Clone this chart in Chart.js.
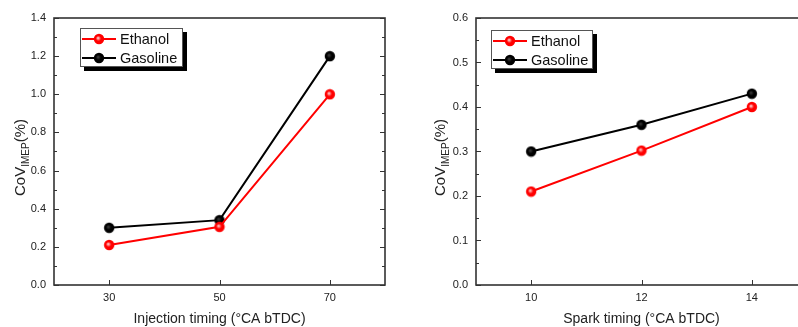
<!DOCTYPE html>
<html>
<head>
<meta charset="utf-8">
<script src="https://cdn.jsdelivr.net/npm/chart.js@4/dist/chart.umd.min.js"></script>
<style>
  html, body { margin: 0; padding: 0; background: #fff; overflow: hidden; }
  body { width: 798px; height: 327px; position: relative; }
  .panel { position: absolute; top: 0; height: 327px; }
  #injPanel { left: 0; width: 400px; }
  #sparkPanel { left: 400px; width: 420px; }
</style>
</head>
<body>
<div class="panel" id="injPanel"><canvas id="injChart" width="400" height="327"></canvas></div>
<div class="panel" id="sparkPanel"><canvas id="sparkChart" width="420" height="327"></canvas></div>
<script>
// Injection timing sweep
const injTiming = [30, 50, 70];
const injEthanol = [0.21, 0.305, 1.0];
const injGasoline = [0.30, 0.34, 1.2];

// Spark timing sweep
const sparkTiming = [10, 12, 14];
const sparkEthanol = [0.21, 0.302, 0.40];
const sparkGasoline = [0.30, 0.36, 0.43];

const FONT = 'Arial, "Liberation Sans", sans-serif';
const TEXT = '#222';

// shaded round markers
function makeDot(fill, shine) {
  const c = document.createElement('canvas');
  c.width = c.height = 12;
  const g = c.getContext('2d');
  const grad = g.createRadialGradient(5, 5, 0.3, 6, 6, 5.5);
  grad.addColorStop(0, shine);
  grad.addColorStop(0.45, fill);
  grad.addColorStop(1, fill);
  g.fillStyle = grad;
  g.beginPath();
  g.arc(6, 6, 5.2, 0, Math.PI * 2);
  g.fill();
  return c;
}
const redDot = makeDot('#ff0000', '#ffd0d0');
const blackDot = makeDot('#000000', '#3a3a3a');

// box frame, inward ticks and axis titles
const framePlugin = {
  id: 'frame',
  beforeDatasetsDraw(chart, args, opts) {
    const { ctx, chartArea: a, scales: { x, y } } = chart;
    ctx.save();
    ctx.strokeStyle = '#333';
    ctx.lineWidth = 1;
    ctx.beginPath();
    const half = opts.yStep / 2;
    for (let i = 0; i * half <= y.max + 1e-9; i++) {
      const py = Math.round(y.getPixelForValue(i * half)) + 0.5;
      const len = i % 2 === 0 ? 5 : 3;
      ctx.moveTo(a.left, py); ctx.lineTo(a.left + len, py);
      ctx.moveTo(a.right, py); ctx.lineTo(a.right - len, py);
    }
    x.ticks.forEach(t => {
      const px = Math.round(x.getPixelForValue(t.value)) + 0.5;
      ctx.moveTo(px, a.bottom); ctx.lineTo(px, a.bottom - 5);
    });
    ctx.stroke();

    ctx.lineWidth = 1.6;
    ctx.strokeRect(a.left, a.top, a.right - a.left, a.bottom - a.top);

    // x title
    ctx.fillStyle = TEXT;
    ctx.font = '14px ' + FONT;
    ctx.textAlign = 'center';
    ctx.textBaseline = 'alphabetic';
    ctx.fillText(opts.xTitle, (a.left + a.right) / 2, 323);

    // y title with subscript
    ctx.translate(opts.yTitleX, (a.top + a.bottom) / 2 + 6);
    ctx.rotate(-Math.PI / 2);
    ctx.textAlign = 'left';
    ctx.textBaseline = 'middle';
    ctx.font = '15px ' + FONT;
    const w1 = ctx.measureText('CoV').width;
    const w3 = ctx.measureText('(%)').width;
    ctx.font = '10px ' + FONT;
    const w2 = ctx.measureText('IMEP').width;
    let sx = -(w1 + w2 + w3) / 2;
    ctx.font = '15px ' + FONT;
    ctx.fillText('CoV', sx, 0);
    sx += w1;
    ctx.font = '10px ' + FONT;
    ctx.fillText('IMEP', sx, 5);
    sx += w2;
    ctx.font = '15px ' + FONT;
    ctx.fillText('(%)', sx, 0);
    ctx.restore();
  }
};

// legend box with drop shadow
const boxLegendPlugin = {
  id: 'boxLegend',
  afterDatasetsDraw(chart, args, opts) {
    const { ctx } = chart;
    const { x, y, w, h } = opts;
    ctx.save();
    ctx.fillStyle = '#000';
    ctx.fillRect(x + 4, y + 4, w, h);
    ctx.fillStyle = '#fff';
    ctx.fillRect(x, y, w, h);
    ctx.strokeStyle = '#555';
    ctx.lineWidth = 1;
    ctx.strokeRect(x + 0.5, y + 0.5, w - 1, h - 1);
    ctx.font = '14.5px ' + FONT;
    ctx.textAlign = 'left';
    ctx.textBaseline = 'middle';
    chart.data.datasets.forEach((ds, i) => {
      const ry = y + 11 + i * 19;
      ctx.strokeStyle = ds.borderColor;
      ctx.lineWidth = 2;
      ctx.beginPath();
      ctx.moveTo(x + 2, ry);
      ctx.lineTo(x + 36, ry);
      ctx.stroke();
      ctx.drawImage(ds.pointStyle, x + 19 - 6, ry - 6);
      ctx.fillStyle = '#111';
      ctx.fillText(ds.label, x + 40, ry + 1);
    });
    ctx.restore();
  }
};

function makeChart(id, xs, eth, gas, cfg) {
  const tickFont = { family: FONT, size: 11 };
  return new Chart(document.getElementById(id), {
    type: 'line',
    data: {
      datasets: [
        {
          label: 'Ethanol',
          data: xs.map((v, i) => ({ x: v, y: eth[i] })),
          borderColor: '#ff0000',
          borderWidth: 2,
          pointStyle: redDot,
          pointRadius: 5
        },
        {
          label: 'Gasoline',
          data: xs.map((v, i) => ({ x: v, y: gas[i] })),
          borderColor: '#000000',
          borderWidth: 2,
          pointStyle: blackDot,
          pointRadius: 5
        }
      ]
    },
    options: {
      responsive: false,
      animation: false,
      layout: { padding: { top: 18, right: cfg.padRight, bottom: 0, left: 0 } },
      plugins: {
        legend: { display: false },
        tooltip: { enabled: false },
        frame: { yStep: cfg.yStep, xTitle: cfg.xTitle, yTitleX: cfg.yTitleX },
        boxLegend: cfg.legend
      },
      scales: {
        x: {
          type: 'linear',
          min: cfg.xMin,
          max: cfg.xMax,
          afterBuildTicks: s => { s.ticks = xs.map(v => ({ value: v })); },
          afterFit: s => { s.height = 42; },
          grid: { display: false, drawTicks: false },
          border: { display: false },
          ticks: { padding: 6, font: tickFont, color: TEXT, autoSkip: false, maxRotation: 0 }
        },
        y: {
          min: 0,
          max: cfg.yMax,
          afterFit: s => { s.width = cfg.yWidth; },
          grid: { display: false, drawTicks: false },
          border: { display: false },
          ticks: {
            stepSize: cfg.yStep,
            padding: 8,
            font: tickFont,
            color: TEXT,
            callback: v => v.toFixed(1)
          }
        }
      }
    },
    plugins: [framePlugin, boxLegendPlugin]
  });
}

makeChart('injChart', injTiming, injEthanol, injGasoline, {
  xMin: 20, xMax: 80, yMax: 1.4, yStep: 0.2,
  yWidth: 54, padRight: 15, yTitleX: 21,
  xTitle: 'Injection timing (\u00B0CA bTDC)',
  legend: { x: 80, y: 28, w: 103, h: 39 }
});

makeChart('sparkChart', sparkTiming, sparkEthanol, sparkGasoline, {
  xMin: 9, xMax: 15, yMax: 0.6, yStep: 0.1,
  yWidth: 76, padRight: 13, yTitleX: 41,
  xTitle: 'Spark timing (\u00B0CA bTDC)',
  legend: { x: 91, y: 30, w: 102, h: 39 }
});
</script>
</body>
</html>
